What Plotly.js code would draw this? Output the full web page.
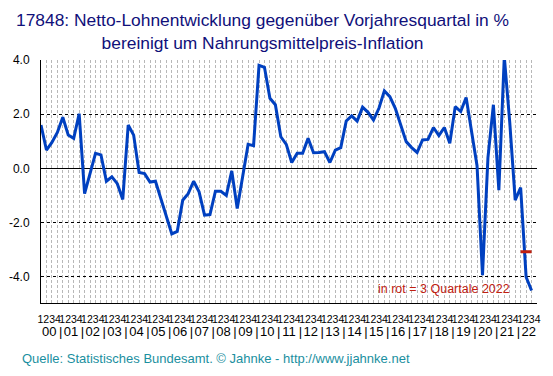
<!DOCTYPE html>
<html><head><meta charset="utf-8">
<script src="https://cdn.plot.ly/plotly-3.0.1.min.js"></script>
<style>html,body{margin:0;padding:0;background:#fff}#chart{width:553px;height:376px}</style>
</head><body><div id="chart"></div>
<script>
// Years (2000 .. 2022), each with quarters 1..4
const years = ['00','01','02','03','04','05','06','07','08','09','10','11','12','13','14','15','16','17','18','19','20','21','22'];
const quarterText = '1234';
// Net wage growth vs. previous-year quarter, adjusted for food inflation (%), 2000Q1 .. 2022Q3
const wage = [
  1.6, 0.68, 0.96, 1.33,   1.89, 1.23, 1.11, 2.02,   -0.93, -0.15, 0.56, 0.5,
  -0.47, -0.31, -0.56, -1.14,   1.6, 1.23, -0.15, -0.19,   -0.5, -0.47, -1.11, -1.73,
  -2.41, -2.32, -1.17, -0.93,   -0.47, -0.86, -1.72, -1.70,   -0.84, -0.84, -0.99, -0.09,
  -1.48, -0.3, 0.89, 0.84,   3.80, 3.73, 2.59, 2.35,   1.17, 0.89, 0.22, 0.56,
  0.56, 1.11, 0.58, 0.59,   0.62, 0.22, 0.68, 0.77,   1.75, 1.94, 1.75, 2.26,
  2.07, 1.79, 2.22, 2.86,   2.65, 2.22, 1.60, 0.99,   0.77, 0.59, 1.05, 1.07,
  1.51, 1.21, 1.51, 0.93,   2.28, 2.10, 2.62, 1.35,   0.1, -3.93, 0.4, 2.35,
  -0.80, 4.12, 1.7, -1.17,   -0.7, -4.0, -4.5
];
// Average of the 3 quarters of 2022 (red mark)
const avg2022Quarters = [88, 90];
const avg2022Value = [-3.07, -3.07];

const quarterIdx = wage.map((v, i) => i);
const yearCenters = years.map((y, i) => 4 * i + 1.5);
const minorVals = [];
for (let i = 0; i < years.length * 4; i++) minorVals.push(i);

// year labels plus separators
const y2Vals = [], y2Text = [];
years.forEach((y, i) => {
  y2Vals.push(4 * i + 1.5); y2Text.push(y);
  if (i < years.length - 1) { y2Vals.push(4 * i + 3.6); y2Text.push('|'); }
});

const FONT = 'Arial, "Liberation Sans", sans-serif';
const PT = 60, PB = 303, PH = PB - PT;
const py = Y => (PB - Y) / PH;   // pixel row -> paper y

const traces = [
  {x: quarterIdx, y: wage, type: 'scatter', mode: 'lines',
   line: {color: '#0040c0', width: 3}, hoverinfo: 'skip', xaxis: 'x', yaxis: 'y'},
  {x: avg2022Quarters, y: avg2022Value, type: 'scatter', mode: 'lines',
   line: {color: '#c02010', width: 3}, hoverinfo: 'skip', xaxis: 'x', yaxis: 'y'},
  {x: [0], y: [null], xaxis: 'x2', yaxis: 'y', type: 'scatter', mode: 'lines', hoverinfo: 'skip'}
];

const layout = {
  width: 553, height: 376,
  margin: {l: 41, r: 16, t: PT, b: 376 - PB},
  paper_bgcolor: '#fff', plot_bgcolor: '#fff',
  showlegend: false,
  font: {family: FONT, size: 12, color: '#000'},
  xaxis: {
    range: [0, 91], showline: true, linecolor: '#000', linewidth: 1,
    showgrid: false, zeroline: false, ticks: '', tickangle: 0,
    tickmode: 'array', tickvals: yearCenters, ticktext: years.map(() => quarterText),
    tickfont: {family: FONT, size: 10.5, color: '#000'},
    ticklabelstandoff: 6,
    minor: {tickmode: 'array', tickvals: minorVals, showgrid: true, gridcolor: '#b8b8b8', griddash: '3px,2px', gridwidth: 1, ticks: ''}
  },
  xaxis2: {
    overlaying: 'x', anchor: 'y', side: 'bottom', range: [0, 91],
    showline: false, showgrid: false, zeroline: false, ticks: '', tickangle: 0,
    tickmode: 'array', tickvals: y2Vals, ticktext: y2Text,
    tickfont: {family: FONT, size: 13, color: '#000'},
    ticklabelstandoff: 19
  },
  yaxis: {
    range: [-4.96, 4.0], showline: true, linecolor: '#000', linewidth: 1,
    tickmode: 'array', tickvals: [4, 2, 0, -2, -4], ticktext: ['4.0', '2.0', '0.0', '-2.0', '-4.0'],
    showgrid: true, gridcolor: '#000', griddash: '3px,3px', gridwidth: 1,
    zeroline: true, zerolinecolor: '#000', zerolinewidth: 1.2,
    ticks: '', ticklabelstandoff: 8,
    tickfont: {family: FONT, size: 12, color: '#000'}
  },
  annotations: [
    {text: '17848: Netto-Lohnentwicklung gegenüber Vorjahresquartal in %<br>bereinigt um Nahrungsmittelpreis-Inflation',
     xref: 'paper', yref: 'paper', x: (262 - 41) / 496, y: py(8), xanchor: 'center', yanchor: 'top',
     showarrow: false, align: 'center',
     font: {family: FONT, size: 17.4, color: '#10107a'}},
    {text: 'in rot = 3 Quartale 2022', xref: 'paper', yref: 'paper', x: (512 - 41) / 496, y: py(289),
     xanchor: 'right', yanchor: 'middle', showarrow: false,
     font: {family: FONT, size: 12.5, color: '#c02010'}},
    {text: 'Quelle: Statistisches Bundesamt. © Jahnke - http://www.jjahnke.net', xref: 'paper', yref: 'paper',
     x: (20 - 41) / 496, y: py(358), xanchor: 'left', yanchor: 'middle', showarrow: false,
     font: {family: FONT, size: 13, color: '#1a8fa0'}}
  ]
};

Plotly.newPlot('chart', traces, layout, {staticPlot: true, displayModeBar: false});
</script>
</body></html>
